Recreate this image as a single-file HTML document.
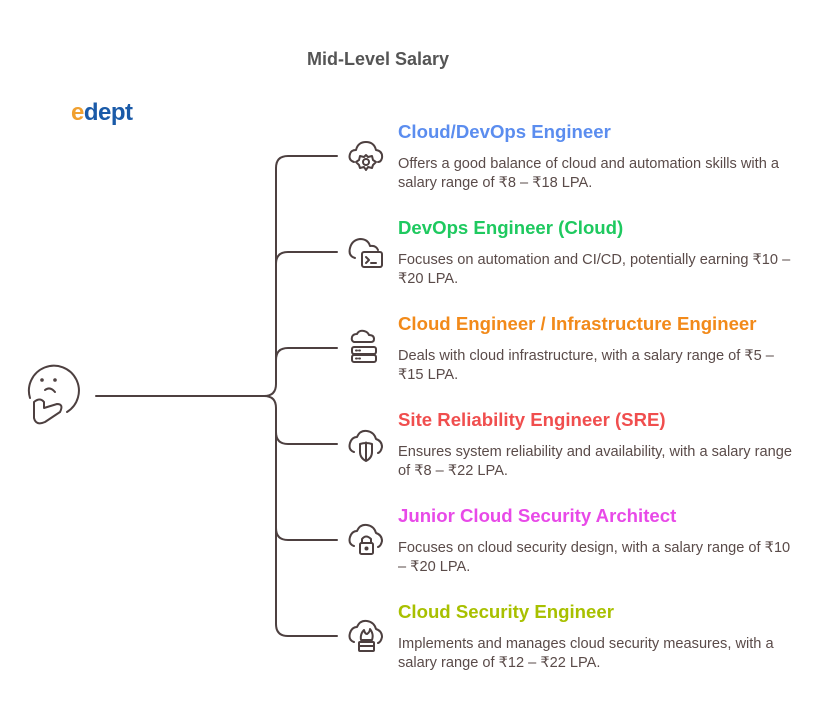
<!DOCTYPE html>
<html><head><meta charset="utf-8"><style>
body{margin:0;width:831px;height:720px;background:#fff;position:relative;overflow:hidden;font-family:"Liberation Sans",sans-serif}
.t{position:absolute;left:398px;font-weight:bold;font-size:18.6px;white-space:nowrap}
.d{position:absolute;left:398px;font-size:14.6px;line-height:19px;color:#5a4b49;width:402px}
</style></head><body>
<div style="position:absolute;left:0;width:756px;top:49px;text-align:center;font-weight:bold;font-size:18px;color:#555">Mid-Level Salary</div>
<div style="position:absolute;left:71px;top:99px;font-size:24px;font-weight:bold;color:#1a5aa8;letter-spacing:-0.5px"><span style="color:#f0a030">e</span>dept</div>
<svg width="831" height="720" style="position:absolute;left:0;top:0" fill="none" stroke="#4d4040" stroke-width="2" stroke-linecap="round" stroke-linejoin="round">
<path d="M96 396 H264 Q276 396 276 384 V168 Q276 156 288 156 H337"/>
<path d="M276 264 Q276 252 288 252 H337"/>
<path d="M276 360 Q276 348 288 348 H337"/>
<path d="M264 396 Q276 396 276 408 V624 Q276 636 288 636 H337"/>
<path d="M276 432 Q276 444 288 444 H337"/>
<path d="M276 528 Q276 540 288 540 H337"/>
<!-- face -->
<path d="M30 398 A25 25 0 1 1 67 412"/><circle cx="42" cy="380" r="0.8"/><circle cx="55" cy="380" r="0.8"/><path d="M45 390 Q50 386 55 392"/>
<path d="M34 402 V418 Q36 426 45 422 L60 412 Q64 404 57 404 L44 408 V402 Q40 397 34 402"/>
<!-- icons -->
<g transform="translate(348,140)"><path d="M6 22 Q0 20 2 14 Q3 10 8 10 Q10 2 18 2 Q26 2 28 10 Q35 11 34 18 Q33 22 30 22"/><circle cx="18" cy="22" r="3"/><path d="M18 15 L20 17 L24 16 L25 20 L28 22 L25 25 L24 28 L20 27 L18 30 L16 27 L12 28 L11 25 L8 22 L11 20 L12 16 L16 17Z"/></g>
<g transform="translate(348,236)"><path d="M7 22 Q0 20 2 12 Q4 4 12 3 Q20 3 22 10 Q28 9 30 14"/><rect x="14" y="16" width="20" height="15" rx="2"/><path d="M18 21 L21 24 L18 27 M23 27 H28"/></g>
<g transform="translate(350,330)"><path d="M4 12 Q1 11 2 7 Q3 4 7 4 Q9 0 14 1 Q18 2 19 5 Q24 5 24 9 Q24 12 21 12 Z"/><rect x="2" y="17" width="24" height="7" rx="2"/><rect x="2" y="25" width="24" height="7" rx="2"/><path d="M6 20.5h1M9 20.5h1M6 28.5h1M9 28.5h1"/></g>
<g transform="translate(348,428)"><path d="M6 24 Q0 22 2 15 Q4 9 9 9 Q12 2 19 3 Q26 4 28 11 Q34 13 34 19 Q33 24 30 25"/><path d="M12 16 Q18 14 24 16 V24 Q24 30 18 33 Q12 30 12 24 Z M18 14.5 V33"/></g>
<g transform="translate(348,524)"><path d="M6 22 Q0 20 2 13 Q4 7 9 7 Q12 0 19 1 Q26 2 28 9 Q34 11 34 17 Q33 22 30 23"/><rect x="12" y="19" width="13" height="11" rx="1.5"/><path d="M14 19 V15 Q18 10 23 15 V19"/><circle cx="18.5" cy="24.5" r="1"/></g>
<g transform="translate(348,620)"><path d="M6 22 Q0 20 2 13 Q4 7 9 7 Q12 0 19 1 Q26 2 28 9 Q34 11 34 17 Q33 22 30 23"/><path d="M13 20 Q12 14 16 10 Q17 14 19 14 Q22 12 22 9 Q26 14 24 20 Z"/><rect x="11" y="22" width="15" height="9" rx="1"/><path d="M11 26h15"/></g>
</svg>
<div class="t" style="top:121px;color:#5b8def">Cloud/DevOps Engineer</div>
<div class="d" style="top:155px">Offers a good balance of cloud and automation skills with a salary range of ₹8 – ₹18 LPA.</div>
<div class="t" style="top:217px;color:#1ec95f">DevOps Engineer (Cloud)</div>
<div class="d" style="top:251px">Focuses on automation and CI/CD, potentially earning ₹10 – ₹20 LPA.</div>
<div class="t" style="top:313px;color:#f28a1a">Cloud Engineer / Infrastructure Engineer</div>
<div class="d" style="top:347px">Deals with cloud infrastructure, with a salary range of ₹5 – ₹15 LPA.</div>
<div class="t" style="top:409px;color:#f04e4e">Site Reliability Engineer (SRE)</div>
<div class="d" style="top:443px">Ensures system reliability and availability, with a salary range of ₹8 – ₹22 LPA.</div>
<div class="t" style="top:505px;color:#e84ae8">Junior Cloud Security Architect</div>
<div class="d" style="top:539px">Focuses on cloud security design, with a salary range of ₹10 – ₹20 LPA.</div>
<div class="t" style="top:601px;color:#a8c000">Cloud Security Engineer</div>
<div class="d" style="top:635px">Implements and manages cloud security measures, with a salary range of ₹12 – ₹22 LPA.</div>
</body></html>
